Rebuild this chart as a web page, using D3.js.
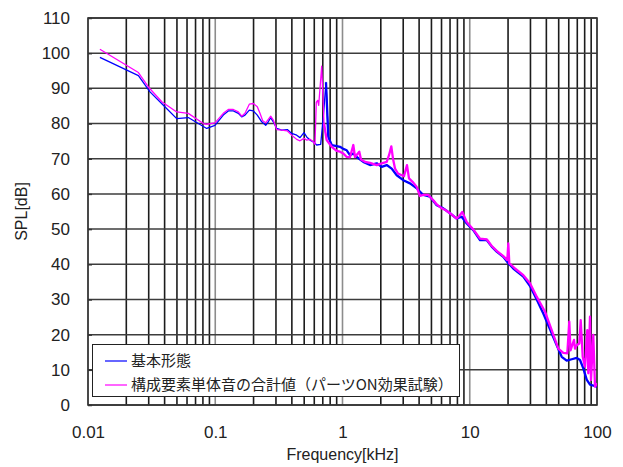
<!DOCTYPE html>
<html>
<head>
<meta charset="utf-8">
<script src="https://cdn.jsdelivr.net/npm/d3@7/dist/d3.min.js"></script>
<style>
  html, body { margin: 0; padding: 0; background: #fff; }
  svg { display: block; }
</style>
</head>
<body>
<svg id="chart" width="623" height="467"></svg>
<script>
// Sound pressure level vs. frequency, two measurement conditions.
const seriesNames = ["基本形態", "構成要素単体音の合計値（パーツON効果試験）"];
const seriesColors = ["#0000ff", "#ff00ff"];

// 基本形態 (frequency in kHz, level in dB)
const freqBase = [
  0.0124, 0.0249, 0.0307, 0.0391, 0.0498, 0.0614, 0.0857, 0.0995, 0.1157, 0.1266,
  0.1387, 0.1518, 0.1614, 0.1713, 0.1852, 0.1991, 0.2140, 0.2318, 0.2492, 0.2612,
  0.2728, 0.2859, 0.3040, 0.3328, 0.3684, 0.3988, 0.4366, 0.4634, 0.4982, 0.5233,
  0.5554, 0.5895, 0.6268, 0.6740, 0.7064, 0.7418, 0.7733, 0.8227, 0.9003, 0.9558,
  1.015, 1.079, 1.145, 1.216, 1.293, 1.457, 1.645, 1.857, 2.033, 2.226,
  2.436, 2.667, 3.004, 3.392, 3.830, 4.315, 4.871, 5.499, 6.196, 6.995,
  7.896, 8.644, 9.462, 10.66, 12.04, 13.59, 14.88, 16.29, 18.35, 20.09,
  21.99, 26.36, 29.75, 33.58, 37.84, 42.73, 48.24, 52.80, 57.80, 63.27,
  69.26, 73.53, 78.05, 82.99, 88.10, 100
];
const splBase = [
  98.8, 93.6, 89.0, 85.2, 81.4, 81.7, 78.6, 79.5, 82.4, 83.6,
  83.6, 82.9, 81.9, 82.4, 83.8, 83.6, 82.4, 80.5, 79.5, 80.5,
  81.7, 80.5, 78.6, 78.1, 78.3, 77.2, 76.7, 76.0, 77.4, 76.2,
  75.3, 74.8, 73.9, 74.1, 81.9, 91.7, 76.2, 73.9, 73.6, 73.4,
  72.8, 72.4, 71.0, 71.5, 70.5, 69.1, 68.2, 68.7, 67.7, 68.2,
  67.2, 65.3, 63.9, 63.0, 61.6, 59.7, 59.2, 56.8, 55.9, 54.5,
  53.0, 53.5, 51.6, 49.7, 46.9, 46.9, 45.0, 43.6, 42.1, 40.3,
  38.8, 36.5, 33.8, 30.0, 26.0, 21.5, 17.0, 13.7, 12.6, 13.0,
  13.4, 12.8, 10.4, 7.2, 5.8, 5.2
];

// 構成要素単体音の合計値 (frequency in kHz, level in dB)
const freqParts = [
  0.0124, 0.0249, 0.0298, 0.0380, 0.0498, 0.0614, 0.0806, 0.0857, 0.0995, 0.1157,
  0.1266, 0.1387, 0.1518, 0.1614, 0.1713, 0.1852, 0.1991, 0.2140, 0.2247, 0.2360,
  0.2492, 0.2728, 0.2859, 0.3040, 0.3328, 0.3684, 0.3988, 0.4366, 0.4634, 0.4982,
  0.5233, 0.5554, 0.5895, 0.6079, 0.6224, 0.6383, 0.6501, 0.6862, 0.7154, 0.7512,
  0.8227, 0.9003, 0.9558, 1.015, 1.079, 1.145, 1.216, 1.254, 1.355, 1.398,
  1.503, 1.645, 1.857, 2.033, 2.226, 2.320, 2.419, 2.494, 2.586, 2.731,
  3.042, 3.212, 3.330, 3.601, 3.830, 4.064, 4.315, 4.724, 5.171, 5.499,
  6.020, 6.390, 6.995, 7.896, 8.306, 8.738, 9.462, 10.66, 12.04, 13.59,
  14.88, 16.29, 18.35, 19.73, 20.09, 20.46, 22.68, 26.36, 29.75, 33.58,
  39.04, 44.06, 49.66, 54.35, 58.43, 60.58, 61.91, 65.97, 67.16, 69.26,
  72.60, 74.47, 77.21, 80.49, 83.89, 85.43, 88.10, 89.70, 93.52, 96.45,
  100
];
const splParts = [
  101.1, 94.5, 90.4, 86.2, 83.3, 82.9, 80.0, 79.8, 80.2, 82.9,
  84.0, 84.0, 83.3, 82.1, 82.9, 85.5, 85.7, 84.8, 82.9, 80.8,
  80.2, 82.1, 81.0, 78.3, 78.1, 77.9, 76.7, 75.5, 75.1, 75.8,
  75.3, 75.5, 74.8, 74.1, 86.0, 86.6, 85.2, 96.3, 80.0, 75.3,
  73.4, 72.2, 72.0, 71.5, 70.5, 70.4, 73.9, 70.5, 72.0, 69.8,
  69.1, 68.8, 68.2, 68.7, 69.1, 71.0, 73.5, 70.0, 67.2, 65.8,
  65.0, 68.2, 64.4, 63.2, 62.0, 59.4, 59.7, 59.7, 58.2, 57.0,
  55.9, 55.5, 54.5, 53.0, 53.8, 54.9, 52.0, 49.9, 47.3, 47.1,
  45.2, 43.8, 42.3, 41.2, 45.9, 40.3, 38.8, 36.9, 34.6, 30.8,
  26.5, 21.3, 16.0, 14.8, 14.7, 23.7, 15.5, 18.5, 16.0, 17.0,
  17.5, 24.1, 13.7, 10.9, 21.3, 9.0, 25.1, 7.1, 19.9, 5.2,
  6.2
];

const yTickValues = [0, 10, 20, 30, 40, 50, 60, 70, 80, 90, 100, 110];
const xTickLabels = ["0.01", "0.1", "1", "10", "100"];

// Above this frequency the spectra are densely sampled and read as a heavier trace.
const denseFrom = 0.75;

const svg = d3.select("#chart");
const margin = { left: 88, top: 18, right: 26, bottom: 62 };
const W = 623, H = 467;
const plotW = W - margin.left - margin.right;
const plotH = H - margin.top - margin.bottom;

const x = d3.scaleLog().domain([0.01, 100]).range([margin.left, margin.left + plotW]);
const y = d3.scaleLinear().domain([0, 110]).range([margin.top + plotH, margin.top]);

const g = svg.append("g");
const font = "'Liberation Sans', Arial, sans-serif";

// Vertical grid: every 1–9 multiple of each decade; decade lines are lighter.
const gridX = x.ticks();
const isDecade = v => Math.abs(Math.log10(v) - Math.round(Math.log10(v))) < 1e-9;
g.append("g").selectAll("line").data(gridX).join("line")
  .attr("x1", d => x(d)).attr("x2", d => x(d))
  .attr("y1", y(0)).attr("y2", y(110))
  .attr("stroke", d => isDecade(d) ? "#8c8c8c" : "#1c1c1c")
  .attr("stroke-width", 1.6);

// Horizontal grid
g.append("g").selectAll("line").data(yTickValues).join("line")
  .attr("x1", x(0.01)).attr("x2", x(100))
  .attr("y1", d => y(d)).attr("y2", d => y(d))
  .attr("stroke", "#3c3c3c")
  .attr("stroke-width", 1.5);

// Plot frame
g.append("rect")
  .attr("x", x(0.01)).attr("y", y(110))
  .attr("width", x(100) - x(0.01)).attr("height", y(0) - y(110))
  .attr("fill", "none").attr("stroke", "#333").attr("stroke-width", 1.6);

// Axes
const yAxis = d3.axisLeft(y).tickValues(yTickValues).tickSize(-4).tickPadding(18)
  .tickFormat(d3.format("d"));
const yg = g.append("g").attr("transform", `translate(${x(0.01)},0)`).call(yAxis);
yg.select(".domain").remove();
yg.selectAll(".tick line").attr("stroke", "#333").attr("stroke-width", 1.5);
yg.selectAll("text").attr("font-family", font).attr("font-size", 17).attr("fill", "#222");

const xDecades = xTickLabels.map(Number);
const xAxis = d3.axisBottom(x).tickValues(xDecades).tickSize(0).tickPadding(21)
  .tickFormat((d, i) => xTickLabels[i]);
const xg = g.append("g").attr("transform", `translate(0,${y(0)})`).call(xAxis);
xg.select(".domain").remove();
xg.selectAll("text").attr("font-family", font).attr("font-size", 17).attr("fill", "#222");

// Axis titles
svg.append("text")
  .attr("x", margin.left + plotW / 2).attr("y", 460)
  .attr("text-anchor", "middle")
  .attr("font-family", font).attr("font-size", 16).attr("fill", "#222")
  .text("Frequency[kHz]");
svg.append("text")
  .attr("transform", `translate(27,${margin.top + plotH / 2}) rotate(-90)`)
  .attr("text-anchor", "middle")
  .attr("font-family", font).attr("font-size", 16).attr("fill", "#222")
  .text("SPL[dB]");

// Data lines: sparse low-frequency part thin, dense part heavier.
const line = d3.line().x(d => x(d[0])).y(d => y(d[1]));
const series = [
  d3.zip(freqBase, splBase),
  d3.zip(freqParts, splParts)
];
function splitAt(pts, f0) {
  const k = pts.findIndex(p => p[0] >= f0);
  return [pts.slice(0, k + 1), pts.slice(Math.max(0, k - 1))];
}
svg.append("clipPath").attr("id", "plotClip").append("rect")
  .attr("x", x(0.01)).attr("y", y(110))
  .attr("width", x(100) - x(0.01)).attr("height", y(0) - y(110));
const lines = g.append("g").attr("clip-path", "url(#plotClip)");
series.forEach((pts, i) => {
  const [sparse, dense] = splitAt(pts, denseFrom);
  lines.append("path").datum(sparse).attr("d", line)
    .attr("fill", "none").attr("stroke", seriesColors[i])
    .attr("stroke-width", 1.3).attr("stroke-linejoin", "round");
  lines.append("path").datum(dense).attr("d", line)
    .attr("fill", "none").attr("stroke", seriesColors[i])
    .attr("stroke-width", 2.3).attr("stroke-linejoin", "round");
});

// Legend
const lg = svg.append("g");
lg.append("rect")
  .attr("x", 92.5).attr("y", 344.5).attr("width", 367).attr("height", 52)
  .attr("fill", "#fff").attr("stroke", "#222").attr("stroke-width", 1);
seriesNames.forEach((name, i) => {
  const ly = 361 + i * 24;
  lg.append("line")
    .attr("x1", 105).attr("x2", 127).attr("y1", ly).attr("y2", ly)
    .attr("stroke", seriesColors[i]).attr("stroke-width", 1.2);
  lg.append("text")
    .attr("x", 131).attr("y", ly).attr("dy", "0.36em")
    .attr("font-family", "'Noto Sans CJK JP', sans-serif")
    .attr("font-size", 15).attr("fill", "#222")
    .text(name);
});
</script>
</body>
</html>
